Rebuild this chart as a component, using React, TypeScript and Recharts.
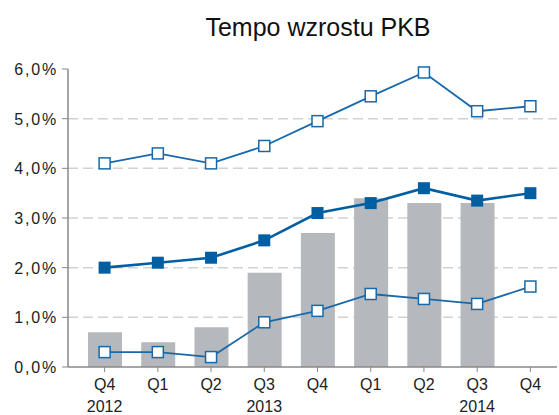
import { ComposedChart, Bar, Line, XAxis, YAxis, CartesianGrid } from 'recharts';

const quarters = ['Q4', 'Q1', 'Q2', 'Q3', 'Q4', 'Q1', 'Q2', 'Q3', 'Q4'];
const years = ['2012', '', '', '2013', '', '', '', '2014', ''];
const barValues = [0.7, 0.5, 0.8, 1.9, 2.7, 3.4, 3.3, 3.3, null];
const midValues = [2.0, 2.1, 2.2, 2.55, 3.1, 3.3, 3.6, 3.35, 3.5];
const upperValues = [4.1, 4.3, 4.1, 4.45, 4.95, 5.45, 5.93, 5.15, 5.25];
const lowerValues = [0.3, 0.3, 0.2, 0.9, 1.13, 1.47, 1.37, 1.27, 1.62];
const yTicks = [0, 1, 2, 3, 4, 5, 6];

const data = quarters.map((q, i) => ({
  idx: i,
  bar: barValues[i],
  mid: midValues[i],
  upper: upperValues[i],
  lower: lowerValues[i],
}));

const FONT = '"Liberation Sans", Arial, sans-serif';
const BLUE = '#005fa3';
const LIGHT_BLUE = '#1769ab';

const fmt = (v: number) => v.toFixed(1).replace('.', ',') + '%';

function FilledSquare(props: any) {
  const { cx, cy, index } = props;
  if (cx == null || cy == null) return <g key={index} />;
  return <rect key={index} x={cx - 6} y={cy - 6} width={12} height={12} fill={BLUE} />;
}

function HollowSquare(props: any) {
  const { cx, cy, index } = props;
  if (cx == null || cy == null) return <g key={index} />;
  return (
    <rect
      key={index}
      x={cx - 5.5}
      y={cy - 5.5}
      width={11}
      height={11}
      fill="#fff"
      stroke={LIGHT_BLUE}
      strokeWidth={1.5}
    />
  );
}

function QuarterTick(props: any) {
  const { x, y, payload } = props;
  const i = payload.value as number;
  return (
    <g>
      <text x={x} y={y} dy={16} textAnchor="middle" fontSize={16} fill="#222" fontFamily={FONT}>
        {quarters[i]}
      </text>
      {years[i] && (
        <text x={x} y={y} dy={38} textAnchor="middle" fontSize={16} fill="#222" fontFamily={FONT}>
          {years[i]}
        </text>
      )}
    </g>
  );
}

function PercentTick(props: any) {
  const { x, y, payload } = props;
  return (
    <text
      x={x + 1}
      y={y}
      dy={6}
      textAnchor="end"
      fontSize={16}
      letterSpacing={1.8}
      fill="#222"
      fontFamily={FONT}
    >
      {fmt(payload.value)}
    </text>
  );
}

export default function App() {
  return (
    <div style={{ position: 'absolute', left: 0, top: 0, width: 559, height: 415, background: '#fff' }}>
      <div
        style={{
          position: 'absolute',
          left: 0,
          width: 636,
          top: 13,
          textAlign: 'center',
          fontFamily: FONT,
          fontSize: 25,
          color: '#111',
          lineHeight: '29px',
        }}
      >
        Tempo wzrostu PKB
      </div>
      <ComposedChart
        width={559}
        height={415}
        data={data}
        margin={{ top: 69, right: 2, bottom: 0, left: 0 }}
      >
        <CartesianGrid
          vertical={false}
          stroke="#d2d2d2"
          strokeWidth={1.5}
          strokeDasharray="10 5"
          horizontalValues={[1, 2, 3, 4, 5]}
        />
        <XAxis
          dataKey="idx"
          type="category"
          height={48}
          padding={{ left: 10, right: 0 }}
          tick={<QuarterTick />}
          tickSize={5}
          tickMargin={2}
          axisLine={{ stroke: '#888', strokeWidth: 1.5 }}
          tickLine={{ stroke: '#888' }}
        />
        <YAxis
          domain={[0, 6]}
          ticks={yTicks}
          width={68}
          tick={<PercentTick />}
          tickSize={6}
          tickMargin={5}
          axisLine={{ stroke: '#888', strokeWidth: 1.5 }}
          tickLine={{ stroke: '#888' }}
        />
        <Bar dataKey="bar" fill="#b5b9bd" barSize={34} isAnimationActive={false} />
        <Line
          dataKey="lower"
          stroke={LIGHT_BLUE}
          strokeWidth={1.8}
          dot={HollowSquare}
          activeDot={false}
          isAnimationActive={false}
        />
        <Line
          dataKey="upper"
          stroke={LIGHT_BLUE}
          strokeWidth={1.8}
          dot={HollowSquare}
          activeDot={false}
          isAnimationActive={false}
        />
        <Line
          dataKey="mid"
          stroke={BLUE}
          strokeWidth={2.6}
          dot={FilledSquare}
          activeDot={false}
          isAnimationActive={false}
        />
      </ComposedChart>
    </div>
  );
}
